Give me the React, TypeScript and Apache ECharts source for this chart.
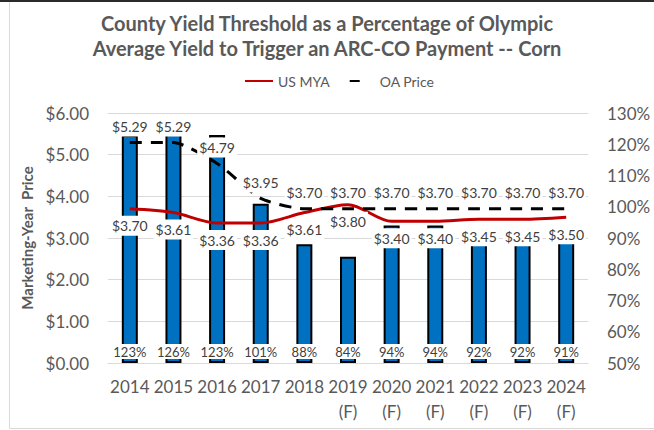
import React, { useEffect, useRef } from "react";
import * as echarts from "echarts";

const years = ["2014", "2015", "2016", "2017", "2018", "2019\n(F)", "2020\n(F)", "2021\n(F)", "2022\n(F)", "2023\n(F)", "2024\n(F)"];
const thresholdPct = [123, 126, 123, 101, 88, 84, 94, 94, 92, 92, 91];
const usMya = [3.70, 3.61, 3.36, 3.36, 3.61, 3.80, 3.40, 3.40, 3.45, 3.45, 3.50];
const oaPrice = [5.29, 5.29, 4.79, 3.95, 3.70, 3.70, 3.70, 3.70, 3.70, 3.70, 3.70];
const titleText = "County Yield Threshold as a Percentage of Olympic\nAverage Yield to Trigger an ARC-CO Payment -- Corn";

const FONT = "Lato, 'Liberation Sans', sans-serif";
const GRAY = "#595959";

export default function App() {
  const ref = useRef<HTMLDivElement>(null);
  useEffect(() => {
    document.body.style.margin = "0";
    const chart = echarts.init(ref.current!, null, { renderer: "svg" });
    const money = (v: number) => "$" + v.toFixed(2);
    const lineLabel = (pos: string, dist: number) => ({
      show: true,
      position: pos,
      distance: dist,
      formatter: (p: any) => money(p.value),
      fontFamily: FONT,
      fontSize: 14,
      color: "#404040",
      backgroundColor: "#ffffff",
      padding: [3, 2],
      opacity: 1,
    });
    chart.setOption({
      animation: false,
      backgroundColor: "#ffffff",
      textStyle: { fontFamily: FONT },
      title: {
        text: titleText,
        left: "center",
        top: 5,
        textStyle: { fontFamily: FONT, fontSize: 20, fontWeight: "bold", color: GRAY, lineHeight: 25 },
      },
      legend: {
        top: 69,
        left: 239,
        itemWidth: 28,
        itemHeight: 10,
        itemGap: 16,
        textStyle: { fontFamily: FONT, fontSize: 14, color: GRAY },
        data: [
          { name: "US MYA" },
          { name: "OA Price", lineStyle: { type: [10, 30], dashOffset: 37 } },
        ],
      },
      grid: { left: 108, right: 66, top: 113, bottom: 67, containLabel: false },
      xAxis: {
        type: "category",
        data: years,
        axisLine: { show: true, lineStyle: { color: "#d9d9d9", width: 1 } },
        axisTick: { show: false },
        axisLabel: { fontFamily: FONT, fontSize: 17, color: GRAY, margin: 11, lineHeight: 25, interval: 0 },
      },
      yAxis: [
        {
          type: "value",
          min: 0,
          max: 6,
          interval: 1,
          name: "Marketing-Year  Price",
          nameLocation: "middle",
          nameRotate: 90,
          nameGap: 73,
          nameTextStyle: { fontFamily: FONT, fontSize: 15, fontWeight: "bold", color: GRAY },
          axisLine: { show: false },
          axisTick: { show: false },
          splitLine: { lineStyle: { color: "#d9d9d9", width: 1 } },
          axisLabel: { fontFamily: FONT, fontSize: 17, color: GRAY, margin: 19, formatter: money },
        },
        {
          type: "value",
          min: 50,
          max: 130,
          interval: 10,
          startValue: 50,
          axisLine: { show: false },
          axisTick: { show: false },
          splitLine: { show: false },
          axisLabel: { fontFamily: FONT, fontSize: 17, color: GRAY, margin: 19, formatter: (v: number) => v + "%" },
        },
      ],
      series: [
        {
          name: "Threshold",
          type: "bar",
          yAxisIndex: 1,
          data: thresholdPct,
          barWidth: 16,
          itemStyle: { color: "#0070C0", borderColor: "#000000", borderWidth: 2 },
          label: {
            show: true,
            position: "insideBottom",
            distance: 4,
            formatter: (p: any) => p.value + "%",
            fontFamily: FONT,
            fontSize: 13,
            color: "#404040",
            backgroundColor: "#ffffff",
            padding: [1, 2],
          },
          z: 1,
        },
        {
          name: "US MYA",
          type: "line",
          yAxisIndex: 0,
          data: usMya,
          smooth: 0.3,
          showSymbol: true,
          symbol: "circle",
          symbolSize: 2,
          lineStyle: { color: "#C00000", width: 3 },
          itemStyle: { color: "rgba(0,0,0,0)", borderWidth: 0 },
          label: lineLabel("bottom", 6),
          z: 3,
        },
        {
          name: "OA Price",
          type: "line",
          yAxisIndex: 0,
          data: oaPrice,
          smooth: 0.2,
          showSymbol: true,
          symbol: "circle",
          symbolSize: 2,
          lineStyle: { color: "#000000", width: 3, type: [12, 9] },
          itemStyle: { color: "rgba(0,0,0,0)", borderWidth: 0 },
          label: lineLabel("top", 5),
          z: 3,
        },
      ],
      graphic: [
        { type: "rect", shape: { x: 0, y: 0, width: 654, height: 2 }, style: { fill: "#2b2b2b" }, silent: true },
        { type: "line", shape: { x1: 9.5, y1: 2, x2: 9.5, y2: 428.5 }, style: { stroke: "#d9d9d9", lineWidth: 1 }, silent: true },
        { type: "line", shape: { x1: 9.5, y1: 428.5, x2: 654, y2: 428.5 }, style: { stroke: "#d9d9d9", lineWidth: 1 }, silent: true },
      ],
    });
    return () => chart.dispose();
  }, []);
  return <div ref={ref} style={{ width: 654, height: 430, position: "absolute", left: 0, top: 0 }} />;
}
